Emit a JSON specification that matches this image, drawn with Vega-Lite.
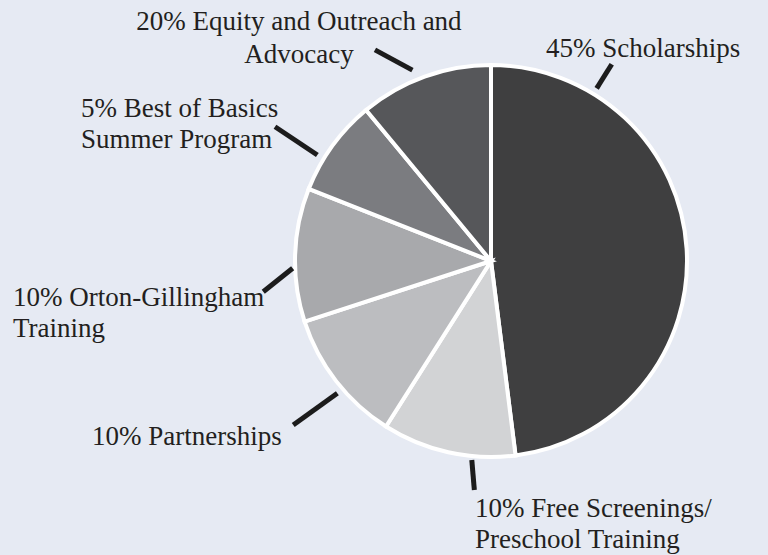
{
  "$schema": "https://vega.github.io/schema/vega-lite/v6.json",
  "width": 392,
  "height": 392,
  "autosize": {"type": "none"},
  "padding": {"left": 295, "top": 65, "right": 81, "bottom": 98},
  "background": "#e6eaf3",
  "config": {"view": {"stroke": null}},
  "datasets": {
    "slices": [
      {"category": "Scholarships", "value": 48, "order": 1},
      {"category": "Free Screenings/Preschool Training", "value": 11, "order": 2},
      {"category": "Partnerships", "value": 11, "order": 3},
      {"category": "Orton-Gillingham Training", "value": 11, "order": 4},
      {"category": "Best of Basics Summer Program", "value": 8, "order": 5},
      {"category": "Equity and Outreach and Advocacy", "value": 11, "order": 6}
    ],
    "leaders": [
      {"category": "Scholarships", "x": 0.616, "y": 1.004, "x2": 0.539, "y2": 0.881},
      {"category": "Equity and Outreach and Advocacy", "x": -0.592, "y": 1.077, "x2": -0.401, "y2": 0.974},
      {"category": "Best of Basics Summer Program", "x": -1.102, "y": 0.685, "x2": -0.886, "y2": 0.541},
      {"category": "Orton-Gillingham Training", "x": -1.162, "y": -0.157, "x2": -1.012, "y2": -0.037},
      {"category": "Partnerships", "x": -1.009, "y": -0.837, "x2": -0.784, "y2": -0.675},
      {"category": "Free Screenings/Preschool Training", "x": -0.098, "y": -1.015, "x2": -0.085, "y2": -1.168}
    ],
    "labels": [
      {"category": "Scholarships", "label": "45% Scholarships", "x": 0.281, "y": 1.041},
      {"category": "Equity and Outreach and Advocacy", "label": "20% Equity and Outreach and\nAdvocacy", "x": -0.98, "y": 1.179},
      {"category": "Best of Basics Summer Program", "label": "5% Best of Basics\nSummer Program", "x": -2.092, "y": 0.735},
      {"category": "Orton-Gillingham Training", "label": "10% Orton-Gillingham\nTraining", "x": -2.439, "y": -0.23},
      {"category": "Partnerships", "label": "10% Partnerships", "x": -2.036, "y": -0.939},
      {"category": "Free Screenings/Preschool Training", "label": "10% Free Screenings/\nPreschool Training", "x": -0.082, "y": -1.306}
    ]
  },
  "layer": [
    {
      "data": {"name": "slices"},
      "mark": {"type": "arc", "stroke": "#ffffff", "strokeWidth": 4},
      "encoding": {
        "theta": {"field": "value", "type": "quantitative", "stack": true},
        "order": {"field": "order", "type": "quantitative"},
        "color": {
          "field": "category",
          "type": "nominal",
          "legend": null,
          "scale": {
            "domain": ["Scholarships", "Free Screenings/Preschool Training", "Partnerships", "Orton-Gillingham Training", "Best of Basics Summer Program", "Equity and Outreach and Advocacy"],
            "range": ["#3f3f40", "#d2d3d5", "#bcbdc0", "#a8a9ac", "#7b7c80", "#56575a"]
          }
        }
      }
    },
    {
      "data": {"name": "leaders"},
      "mark": {"type": "rule", "stroke": "#1c1c1c", "strokeWidth": 5, "strokeCap": "butt"},
      "encoding": {
        "x": {"field": "x", "type": "quantitative", "axis": null, "scale": {"domain": [-1, 1], "nice": false, "zero": false}},
        "y": {"field": "y", "type": "quantitative", "axis": null, "scale": {"domain": [-1, 1], "nice": false, "zero": false}},
        "x2": {"field": "x2"},
        "y2": {"field": "y2"}
      }
    },
    {
      "data": {"name": "labels"},
      "transform": [{"filter": "datum.category !== 'Equity and Outreach and Advocacy'"}],
      "mark": {"type": "text", "align": "left", "baseline": "alphabetic", "font": "Liberation Serif", "fontSize": 27, "lineHeight": 31, "lineBreak": "\n", "color": "#231f20"},
      "encoding": {
        "x": {"field": "x", "type": "quantitative", "axis": null, "scale": {"domain": [-1, 1], "nice": false, "zero": false}},
        "y": {"field": "y", "type": "quantitative", "axis": null, "scale": {"domain": [-1, 1], "nice": false, "zero": false}},
        "text": {"field": "label"}
      }
    },
    {
      "data": {"name": "labels"},
      "transform": [{"filter": "datum.category === 'Equity and Outreach and Advocacy'"}],
      "mark": {"type": "text", "align": "center", "baseline": "alphabetic", "font": "Liberation Serif", "fontSize": 27, "lineHeight": 33, "lineBreak": "\n", "color": "#231f20"},
      "encoding": {
        "x": {"field": "x", "type": "quantitative", "axis": null, "scale": {"domain": [-1, 1], "nice": false, "zero": false}},
        "y": {"field": "y", "type": "quantitative", "axis": null, "scale": {"domain": [-1, 1], "nice": false, "zero": false}},
        "text": {"field": "label"}
      }
    }
  ]
}
